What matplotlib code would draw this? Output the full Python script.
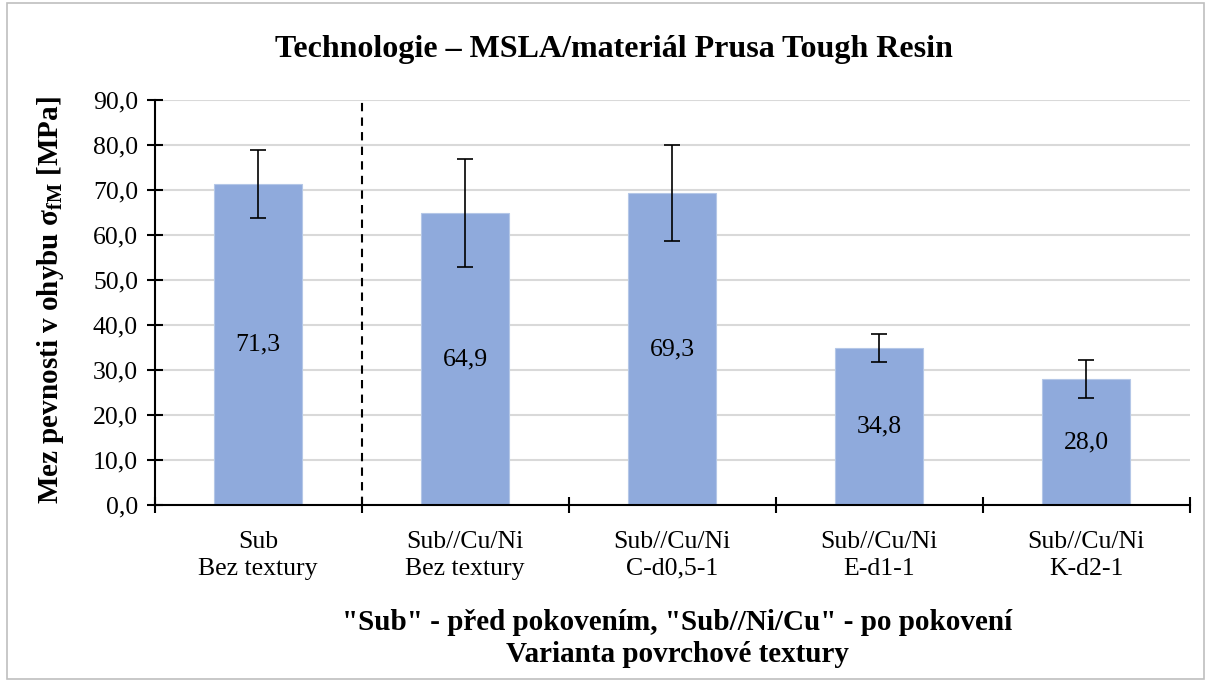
import matplotlib.pyplot as plt
import matplotlib.patches as patches

kategorie = ["Sub\nBez textury", "Sub//Cu/Ni\nBez textury", "Sub//Cu/Ni\nC-d0,5-1",
             "Sub//Cu/Ni\nE-d1-1", "Sub//Cu/Ni\nK-d2-1"]
hodnoty = [71.3, 64.9, 69.3, 34.8, 28.0]
chyby = [7.6, 12.0, 10.6, 3.1, 4.3]
popisky = ["71,3", "64,9", "69,3", "34,8", "28,0"]
y_ticky = [0, 10, 20, 30, 40, 50, 60, 70, 80, 90]

plt.rcParams['font.family'] = ['Liberation Serif', 'DejaVu Serif']
plt.rcParams['mathtext.fontset'] = 'custom'
plt.rcParams['mathtext.rm'] = 'Liberation Serif'
plt.rcParams['mathtext.bf'] = 'Liberation Serif:bold'

fig = plt.figure(figsize=(12.09, 6.82), dpi=100)
ax = fig.add_axes([0.128, 0.2595, 0.856, 0.594])

x = list(range(len(kategorie)))
ax.bar(x, hodnoty, width=0.425, color='#8FAADC', edgecolor='#B4C7E7', linewidth=0.8, zorder=2)
ax.errorbar(x, hodnoty, yerr=chyby, fmt='none', ecolor='black', elinewidth=1.2,
            capsize=5.5, capthick=1.2, zorder=3)

for xi, v, txt in zip(x, hodnoty, popisky):
    ax.text(xi, v / 2, txt, ha='center', va='center', fontsize=18.5, zorder=4)

# oddeleni varianty pred pokovenim
ax.axvline(0.5, color='black', linestyle=(0, (4, 3)), linewidth=1.5, zorder=3)

ax.set_xlim(-0.5, len(kategorie) - 0.5)
ax.set_ylim(0, 90)
ax.set_yticks(y_ticky)
ax.set_yticklabels([f"{t:.1f}".replace('.', ',') for t in y_ticky], fontsize=18.5)
ax.yaxis.grid(True, color='#D9D9D9', linewidth=1.5, zorder=0)
ax.set_axisbelow(True)

ax.set_xticks([i - 0.5 for i in range(len(kategorie) + 1)])
ax.set_xticklabels([])
ax.set_xticks(x, minor=True)
ax.set_xticklabels(kategorie, minor=True, fontsize=18.5, linespacing=1.25)
ax.tick_params(axis='x', which='minor', length=0, pad=19)
ax.tick_params(axis='x', which='major', direction='inout', length=12, width=1.5)
ax.tick_params(axis='y', direction='inout', length=12, width=1.5, pad=6)

for s in ['top', 'right']:
    ax.spines[s].set_visible(False)
for s in ['left', 'bottom']:
    ax.spines[s].set_linewidth(1.5)

fig.text(0.508, 0.927, "Technologie – MSLA/materiál Prusa Tough Resin",
         ha='center', va='center', fontsize=23, fontweight='bold')
fig.text(0.042, 0.56, r"Mez pevnosti v ohybu σ$_{\mathbf{fM}}$ [MPa]",
         ha='center', va='center', rotation=90, fontsize=21, fontweight='bold')
fig.text(0.56, 0.064, "\"Sub\" - před pokovením, \"Sub//Ni/Cu\" - po pokovení\nVarianta povrchové textury",
         ha='center', va='center', fontsize=21, fontweight='bold', linespacing=1.25)

fig.patches.append(patches.Rectangle((0.006, 0.004), 0.99, 0.992, transform=fig.transFigure,
                                     fill=False, edgecolor='#BFBFBF', linewidth=1.2))

fig.savefig("out.png", dpi=100)
